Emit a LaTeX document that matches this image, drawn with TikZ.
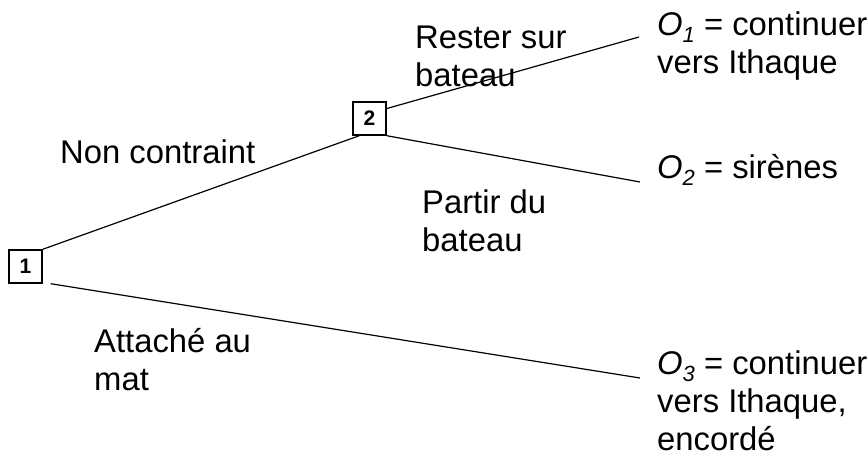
\documentclass[tikz,border=0pt]{standalone}
\usepackage{fontspec}
\setmainfont{Liberation Sans}
\newcommand\outcome[1]{\textit{O}\raisebox{-7pt}{\fontsize{22}{22}\selectfont\itshape #1}}
\begin{document}
\begin{tikzpicture}[x=1pt,y=-1pt,
  decision/.style={draw,line width=1.4pt,minimum size=33pt,inner sep=0pt,
    font=\fontsize{21}{21}\selectfont\bfseries},
  branch/.style={line width=1.2pt},
  label/.style={anchor=base west,inner sep=0pt,align=left,
    font=\fontsize{32.8}{38}\selectfont}]
  \path[use as bounding box] (0,0) rectangle (868,458);

  % decision nodes
  \node[decision] (b1) at (25.5,266.5) {1};
  \node[decision] (b2) at (369.5,118.5) {2};

  % end points of the branches
  \coordinate (e1) at (639,37);
  \coordinate (e2) at (640,182);
  \coordinate (e3) at (640,378);

  % branches
  \draw[branch] (b1.north east) -- ([xshift=7pt]b2.south west);
  \draw[branch] (b2.30) -- (e1);
  \draw[branch] (b2.south east) -- (e2);
  \draw[branch] ([xshift=8pt]b1.south east) -- (e3);

  % branch labels (anchored on the baseline of their last line)
  \node[label] (l1) at (60,163) {Non contraint};
  \node[label] (l2) at (415,86) {Rester sur\\bateau};
  \node[label] (l3) at (422,251) {Partir du\\bateau};
  \node[label] (l4) at (94,390) {Attaché au\\mat};

  % outcomes
  \node[label] (o1) at (657,73) {\outcome{1} = continuer\\vers Ithaque};
  \node[label] (o2) at (657,178) {\outcome{2} = sirènes};
  \node[label] (o3) at (657,450) {\outcome{3} = continuer\\vers Ithaque,\\encordé};
\end{tikzpicture}
\end{document}
